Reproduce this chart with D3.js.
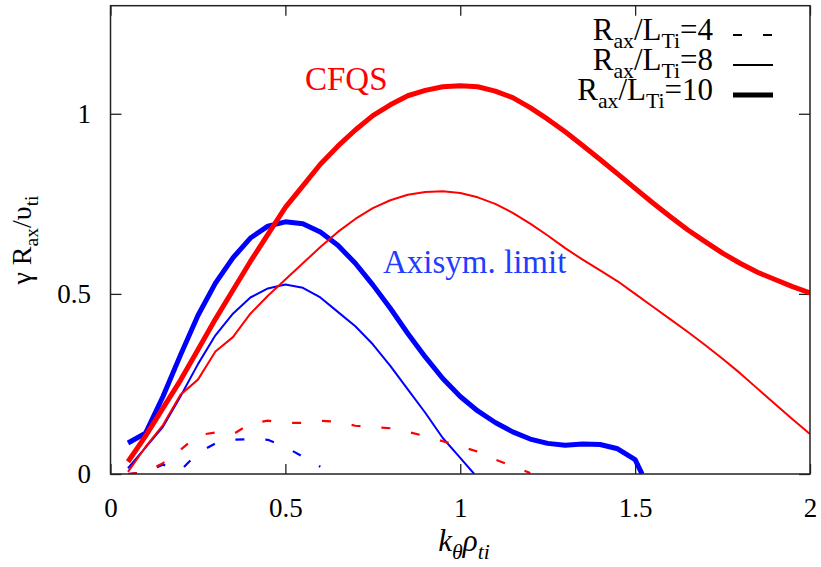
<!DOCTYPE html>
<html>
<head>
<meta charset="utf-8">
<script src="https://cdn.jsdelivr.net/npm/d3@7/dist/d3.min.js"></script>
<style>
  html, body { margin: 0; padding: 0; background: #fff; }
  svg { display: block; }
  svg text, svg tspan { font-family: "Liberation Serif", "Tinos", "Times New Roman", "DejaVu Serif", serif; }
</style>
</head>
<body>
<svg id="chart" width="821" height="567"></svg>
<script>
// Growth rate γ R_ax/υ_ti versus k_θ ρ_ti, pairs of [k, gamma]
const cfqs4 = [[0.05,0],[0.10,0.005],[0.15,0.03],[0.20,0.067],[0.25,0.108],[0.30,0.115],[0.35,0.11],
  [0.40,0.14],[0.45,0.148],[0.50,0.142],[0.55,0.142],[0.60,0.148],[0.65,0.145],[0.70,0.134],[0.75,0.13],
  [0.80,0.127],[0.85,0.117],[0.90,0.105],[0.95,0.091],[1.00,0.077],[1.05,0.062],[1.10,0.04],[1.15,0.022],[1.20,0.003]];
const cfqs8 = [[0.05,0.006],[0.10,0.075],[0.15,0.136],[0.20,0.22],[0.25,0.262],[0.30,0.34],[0.35,0.38],
  [0.40,0.445],[0.45,0.495],[0.50,0.54],[0.55,0.585],[0.60,0.63],[0.65,0.672],[0.70,0.708],[0.75,0.738],
  [0.80,0.76],[0.85,0.775],[0.90,0.783],[0.95,0.785],[1.00,0.78],[1.05,0.768],[1.10,0.75],[1.15,0.725],
  [1.20,0.695],[1.25,0.662],[1.30,0.627],[1.35,0.595],[1.40,0.565],[1.45,0.535],[1.50,0.50],[1.55,0.465],
  [1.60,0.43],[1.65,0.395],[1.70,0.358],[1.75,0.32],[1.80,0.28],[1.85,0.237],[1.90,0.194],[1.95,0.152],[2.00,0.111]];
const cfqs10 = [[0.05,0.034],[0.10,0.105],[0.15,0.183],[0.20,0.26],[0.25,0.345],[0.30,0.43],[0.35,0.51],
  [0.40,0.59],[0.45,0.665],[0.50,0.74],[0.55,0.80],[0.60,0.86],[0.65,0.91],[0.70,0.955],[0.75,0.995],
  [0.80,1.025],[0.85,1.05],[0.90,1.065],[0.95,1.075],[1.00,1.078],[1.05,1.075],[1.10,1.063],[1.15,1.045],
  [1.20,1.017],[1.25,0.985],[1.30,0.95],[1.35,0.912],[1.40,0.873],[1.45,0.833],[1.50,0.793],[1.55,0.753],
  [1.60,0.715],[1.65,0.678],[1.70,0.645],[1.75,0.613],[1.80,0.585],[1.85,0.56],[1.90,0.54],[1.95,0.52],[2.00,0.503]];
const axisym4 = [[0.05,0],[0.10,0.005],[0.15,0.026],[0.20,0.01],[0.25,0.058],[0.30,0.085],[0.35,0.095],
  [0.40,0.097],[0.45,0.095],[0.50,0.075],[0.55,0.048],[0.60,0.02]];
const axisym8 = [[0.05,0.016],[0.10,0.073],[0.15,0.131],[0.20,0.215],[0.25,0.305],[0.30,0.385],[0.35,0.445],
  [0.40,0.49],[0.45,0.515],[0.50,0.526],[0.55,0.517],[0.60,0.49],[0.65,0.45],[0.70,0.41],[0.75,0.36],
  [0.80,0.30],[0.85,0.235],[0.90,0.17],[0.95,0.10],[1.00,0.045],[1.04,0]];
const axisym10 = [[0.05,0.086],[0.10,0.113],[0.15,0.215],[0.20,0.33],[0.25,0.44],[0.30,0.53],[0.35,0.60],
  [0.40,0.655],[0.45,0.688],[0.50,0.70],[0.55,0.695],[0.60,0.672],[0.65,0.635],[0.70,0.585],[0.75,0.525],
  [0.80,0.46],[0.85,0.39],[0.90,0.325],[0.95,0.265],[1.00,0.215],[1.05,0.175],[1.10,0.143],[1.15,0.117],
  [1.20,0.097],[1.25,0.085],[1.30,0.08],[1.35,0.083],[1.40,0.082],[1.45,0.07],[1.50,0.04],[1.52,0]];

const xTicks = [0, 0.5, 1, 1.5, 2];
const yTicks = [0, 0.5, 1];
const legendGradients = ["4", "8", "10"];

// Line styles per temperature gradient
const styles = {
  "4":  { width: 2.2, dash: "9,21" },
  "8":  { width: 2, dash: null },
  "10": { width: 5, dash: null }
};
const RED = "#ff0000", BLUE = "#0000ff";

const series = [
  { data: axisym4, color: BLUE, grad: "4" },
  { data: axisym8, color: BLUE, grad: "8" },
  { data: axisym10, color: BLUE, grad: "10" },
  { data: cfqs4, color: RED, grad: "4" },
  { data: cfqs8, color: RED, grad: "8" },
  { data: cfqs10, color: RED, grad: "10" }
];

const svg = d3.select("#chart");
const plotLeft = 110.5, plotRight = 810, plotTop = 5.7, plotBottom = 474;
const x = d3.scaleLinear().domain([0, 2]).range([plotLeft, plotRight]);
const y = d3.scaleLinear().domain([0, 1.3]).range([plotBottom, plotTop]);

svg.append("defs").append("clipPath").attr("id", "plotClip")
  .append("rect").attr("x", plotLeft).attr("y", plotTop)
  .attr("width", plotRight - plotLeft).attr("height", plotBottom - plotTop);

// Axes with inward ticks on all four sides
const tickFmt = d => String(d);
const gx = svg.append("g").attr("transform", `translate(0,${plotBottom})`)
  .call(d3.axisBottom(x).tickValues(xTicks).tickFormat(tickFmt).tickSizeInner(-10).tickSizeOuter(0).tickPadding(24));
const gxt = svg.append("g").attr("transform", `translate(0,${plotTop})`)
  .call(d3.axisTop(x).tickValues(xTicks).tickFormat("").tickSizeInner(-10).tickSizeOuter(0));
const gy = svg.append("g").attr("transform", `translate(${plotLeft},0)`)
  .call(d3.axisLeft(y).tickValues(yTicks).tickFormat(tickFmt).tickSizeInner(-11).tickSizeOuter(0).tickPadding(19.5));
const gyr = svg.append("g").attr("transform", `translate(${plotRight},0)`)
  .call(d3.axisRight(y).tickValues(yTicks).tickFormat("").tickSizeInner(-11).tickSizeOuter(0));
[gx, gxt, gy, gyr].forEach(g => {
  g.attr("font-family", null);
  g.select(".domain").remove();
  g.selectAll(".tick line").attr("stroke", "#222").attr("stroke-width", 1.3);
  g.selectAll(".tick text").attr("font-size", 27).attr("fill", "#000");
});

// Curves
const line = d3.line().x(d => x(d[0])).y(d => y(d[1]));
const plot = svg.append("g").attr("clip-path", "url(#plotClip)");
series.forEach(s => {
  const st = styles[s.grad];
  plot.append("path").datum(s.data)
    .attr("d", line)
    .attr("fill", "none")
    .attr("stroke", s.color)
    .attr("stroke-width", st.width)
    .attr("stroke-linejoin", "round")
    .attr("stroke-dasharray", st.dash);
});

// Frame
svg.append("rect").attr("x", plotLeft).attr("y", plotTop)
  .attr("width", plotRight - plotLeft).attr("height", plotBottom - plotTop)
  .attr("fill", "none").attr("stroke", "#222").attr("stroke-width", 1.5);

// Rich text helper: parts are [text, isSubscript]
function rich(sel, parts, size, italic) {
  let shifted = false;
  parts.forEach(([t, sub]) => {
    const ts = sel.append("tspan").text(t)
      .attr("font-size", sub ? size * 0.7 : size);
    if (italic) ts.attr("font-style", "italic");
    if (sub && !shifted) { ts.attr("dy", size * 0.25); shifted = true; }
    else if (!sub && shifted) { ts.attr("dy", -size * 0.25); shifted = false; }
  });
  return sel;
}

// Axis titles
rich(svg.append("text").attr("x", 464).attr("y", 551).attr("text-anchor", "middle"),
  [["k", false], ["θ", true], ["ρ", false], ["ti", true]], 31, true);
rich(svg.append("text").attr("transform", "translate(31,240) rotate(-90)").attr("text-anchor", "middle"),
  [["γ R", false], ["ax", true], ["/υ", false], ["ti", true]], 28, false);

// Curve annotations
svg.append("text").attr("x", 305).attr("y", 90).attr("font-size", 33).style("fill", RED).text("CFQS");
svg.append("text").attr("x", 383).attr("y", 273).attr("font-size", 33).style("fill", "#1f3cff").text("Axisym. limit");

// Legend
const legend = svg.append("g");
legendGradients.forEach((g, i) => {
  const base = 40 + i * 30;
  rich(legend.append("text").attr("x", 713).attr("y", base).attr("text-anchor", "end"),
    [["R", false], ["ax", true], ["/L", false], ["Ti", true], ["=" + g, false]], 31, false);
  const st = styles[g];
  legend.append("line").attr("x1", 733).attr("x2", 773).attr("y1", base - 5).attr("y2", base - 5)
    .attr("stroke", "#000").attr("stroke-width", st.width).attr("stroke-dasharray", st.dash);
});
</script>
</body>
</html>
